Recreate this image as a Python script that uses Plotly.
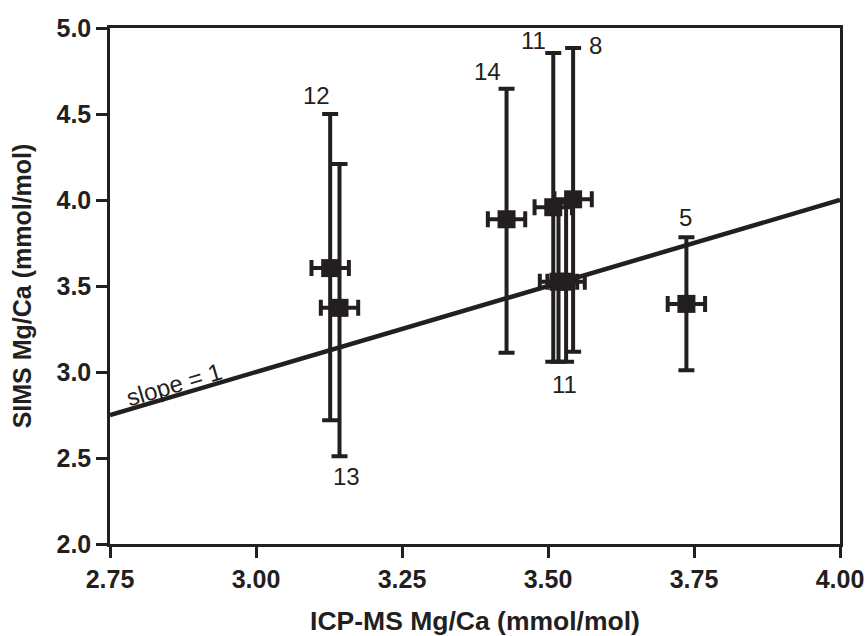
import plotly.graph_objects as go

# Data
icp_mgca = [3.127, 3.143, 3.429, 3.509, 3.518, 3.531, 3.543, 3.737]
sims_mgca = [3.604, 3.373, 3.888, 3.958, 3.525, 3.525, 4.004, 3.396]
sims_err_plus = [0.896, 0.837, 0.759, 0.897, 0.46, 0.46, 0.88, 0.388]
sims_err_minus = [0.884, 0.863, 0.776, 0.898, 0.465, 0.465, 0.886, 0.386]
icp_err = [0.032, 0.032, 0.032, 0.032, 0.032, 0.032, 0.032, 0.032]

label_text = ["12", "13", "14", "11", "8", "11", "5"]
label_x = [3.104, 3.155, 3.396, 3.476, 3.581, 3.528, 3.736]
label_y = [4.606, 2.394, 4.745, 4.925, 4.896, 2.927, 3.90]

slope_x = [2.75, 4.00]
slope_y = [2.75, 4.00]

x_ticks = [2.75, 3.00, 3.25, 3.50, 3.75, 4.00]
y_ticks = [2.0, 2.5, 3.0, 3.5, 4.0, 4.5, 5.0]

INK = "#231f20"
FONT = "Liberation Sans, Arial, sans-serif"

fig = go.Figure()

fig.add_trace(go.Scatter(
    x=slope_x, y=slope_y, mode="lines",
    line=dict(color=INK, width=4.5), showlegend=False, hoverinfo="skip",
))

fig.add_trace(go.Scatter(
    x=icp_mgca, y=sims_mgca, mode="markers",
    marker=dict(symbol="square", size=18, color=INK),
    error_y=dict(type="data", symmetric=False, array=sims_err_plus,
                 arrayminus=sims_err_minus, color=INK, thickness=4, width=8),
    error_x=dict(type="data", array=icp_err, color=INK, thickness=4, width=8),
    showlegend=False,
))

for t, lx, ly in zip(label_text, label_x, label_y):
    fig.add_annotation(x=lx, y=ly, text=t, showarrow=False,
                       font=dict(family=FONT, size=24, color=INK))

fig.add_annotation(x=2.86, y=2.93, text="slope = 1", showarrow=False,
                   textangle=-16.5, font=dict(family=FONT, size=24, color=INK))

fig.update_layout(
    width=866, height=636,
    margin=dict(l=110, r=26, t=28, b=92),
    plot_bgcolor="white", paper_bgcolor="white",
    font=dict(family=FONT, color=INK),
)

fig.update_xaxes(
    range=[2.75, 4.00], tickvals=x_ticks, tickformat=".2f", automargin=False,
    showgrid=False, zeroline=False, showline=True, mirror=True,
    linecolor=INK, linewidth=2.5, ticks="outside", ticklen=11, tickwidth=2.5,
    tickcolor=INK,
    tickfont=dict(family=FONT, size=25, color=INK, weight="bold"),
    title=dict(text="ICP-MS Mg/Ca (mmol/mol)", standoff=20,
               font=dict(family=FONT, size=26.5, color=INK, weight="bold")),
)
fig.update_yaxes(
    range=[2.0, 5.0], tickvals=y_ticks, tickformat=".1f", automargin=False,
    showgrid=False, zeroline=False, showline=True, mirror=True,
    linecolor=INK, linewidth=2.5, ticks="outside", ticklen=11, tickwidth=2.5,
    tickcolor=INK,
    tickfont=dict(family=FONT, size=25, color=INK, weight="bold"),
    title=dict(text="SIMS Mg/Ca (mmol/mol)", standoff=18,
               font=dict(family=FONT, size=25, color=INK, weight="bold")),
)

fig.write_html(
    "out.html",
    config={"displayModeBar": False},
    post_script="document.body.style.margin='0';document.body.style.overflow='hidden';",
)
